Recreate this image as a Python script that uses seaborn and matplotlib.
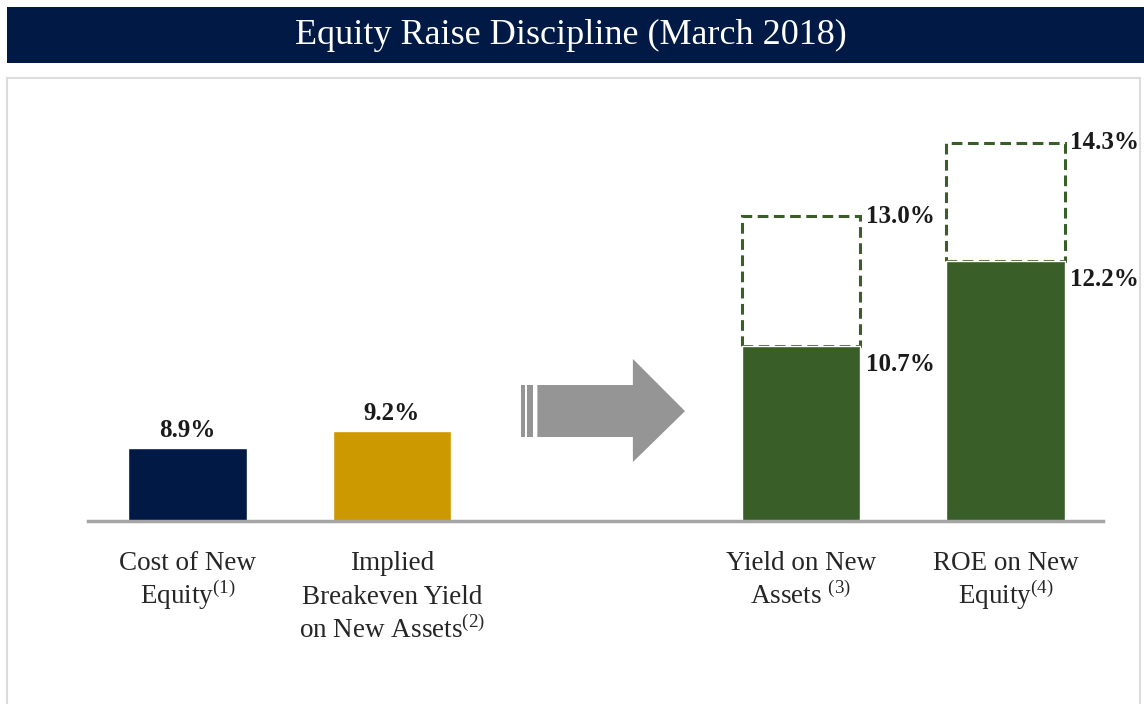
import matplotlib
matplotlib.use("Agg")
import matplotlib.pyplot as plt
from matplotlib.patches import Rectangle, Polygon
import seaborn as sns
import pandas as pd

# ---- data ----
categories = ["Cost of New Equity", "Implied Breakeven Yield on New Assets",
              "Yield on New Assets", "ROE on New Equity"]
values = [8.9, 9.2, 10.7, 12.2]
upside = [None, None, 13.0, 14.3]
tick_labels = [["Cost of New", "Equity$^{(1)}$"],
               ["Implied", "Breakeven Yield", "on New Assets$^{(2)}$"],
               ["Yield on New", "Assets $^{(3)}$"],
               ["ROE on New", "Equity$^{(4)}$"]]
title = "Equity Raise Discipline (March 2018)"

# ---- style ----
NAVY = "#001A45"
GOLD = "#CC9900"
GREEN = "#3A5E28"
GRAY = "#959595"
bar_colors = [NAVY, GOLD, GREEN, GREEN]

sns.set_style("white")
plt.rcParams["font.family"] = ["Liberation Serif", "DejaVu Serif"]
plt.rcParams["mathtext.fontset"] = "custom"
plt.rcParams["mathtext.rm"] = "Liberation Serif"

W, H = 1144, 704
fig = plt.figure(figsize=(W / 100, H / 100), dpi=100)
fig.patch.set_facecolor("white")

# title bar and panel frame
fig.add_artist(Rectangle((7 / W, (H - 63) / H), (W - 7) / W, 56 / H,
                         transform=fig.transFigure, facecolor=NAVY, edgecolor="none"))
fig.text(0.499, (H - 35) / H, title, color="white", fontsize=26,
         ha="center", va="center")
fig.add_artist(Rectangle((7 / W, -0.01), (1140 - 7) / W, (H - 78) / H + 0.01,
                         transform=fig.transFigure, fill=False,
                         edgecolor="#DCDCDC", linewidth=1.5))

ax = fig.add_axes([88 / W, (H - 521) / H, (1103 - 88) / W, (521 - 100) / H])
ax.set_facecolor("none")

df = pd.DataFrame({"category": categories, "value": values})
order = categories[:2] + [""] + categories[2:]
palette = dict(zip(categories, bar_colors))
sns.barplot(data=df, x="category", y="value", order=order, hue="category",
            palette=palette, saturation=1, width=0.58, legend=False, ax=ax,
            zorder=2)

ymin = 7.6
ax.set_ylim(ymin, 15.06)
ax.set_xlim(-0.4866, 4.477)

bw = 0.58
for cat, v, up in zip(categories, values, upside):
    pos = order.index(cat)
    if up is None:
        ax.annotate(f"{v:.1f}%", (pos, v), xytext=(0, 4), textcoords="offset points",
                    ha="center", va="bottom", fontsize=18, fontweight="bold",
                    color="#1a1a1a")
    else:
        ax.bar(pos, up - v, bottom=v, width=bw, fill=False, edgecolor=GREEN,
               linewidth=2.2, linestyle=(0, (3.5, 1.8)), zorder=1)
        ax.annotate(f"{v:.1f}%", (pos + bw / 2, v), xytext=(4, -13),
                    textcoords="offset points", ha="left", va="center",
                    fontsize=18, fontweight="bold", color="#1a1a1a")
        ax.annotate(f"{up:.1f}%", (pos + bw / 2, up), xytext=(4, 0),
                    textcoords="offset points", ha="left", va="center",
                    fontsize=18, fontweight="bold", color="#1a1a1a")

# decorative arrow in the empty slot
tr = ax.get_xaxis_transform()
ax.add_patch(Polygon([(1.711, 0.1995), (2.178, 0.1995), (2.178, 0.140),
                      (2.433, 0.261), (2.178, 0.385), (2.178, 0.323),
                      (1.711, 0.323)], closed=True, transform=tr,
                     facecolor=GRAY, edgecolor="none", clip_on=False))
for x0, x1 in [(1.629, 1.650), (1.662, 1.691)]:
    ax.add_patch(Rectangle((x0, 0.1995), x1 - x0, 0.1235, transform=tr,
                           facecolor=GRAY, edgecolor="none", clip_on=False))

# category labels below the baseline (one text per line for even spacing)
ax.set_xticks([order.index(c) for c in categories])
ax.set_xticklabels([""] * len(categories))
ax.tick_params(axis="x", length=0)
for cat, lines in zip(categories, tick_labels):
    pos = order.index(cat)
    for i, line in enumerate(lines):
        ax.annotate(line, (pos, 0), xycoords=tr, xytext=(0, -35.5 - 24.5 * i),
                    textcoords="offset points", ha="center", va="baseline",
                    fontsize=19.5, color="#262626", annotation_clip=False)

ax.set_yticks([])
ax.set_xlabel("")
ax.set_ylabel("")
for s in ["top", "left", "right"]:
    ax.spines[s].set_visible(False)
ax.spines["bottom"].set_color("#A6A6A6")
ax.spines["bottom"].set_linewidth(2.5)
ax.spines["bottom"].set_zorder(3)

fig.savefig("out.png", dpi=100, facecolor="white")
